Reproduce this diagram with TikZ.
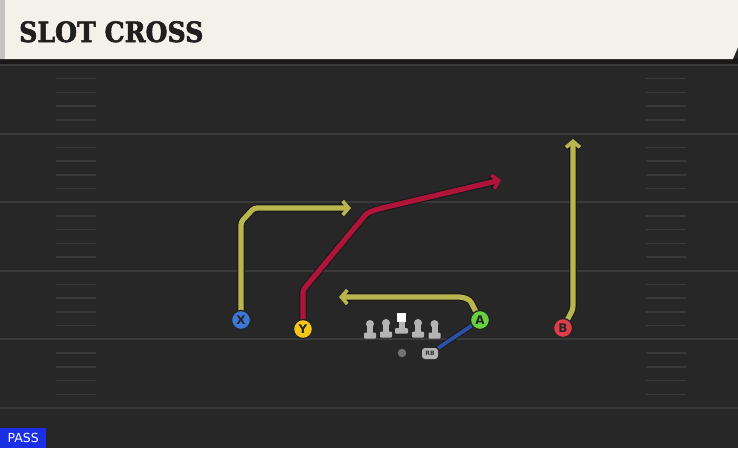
\documentclass[tikz,border=0pt]{standalone}
\usepackage{fontspec}
\setmainfont{DejaVu Sans}
\newfontfamily\titlefont[FakeStretch=0.9, FakeBold=2]{DejaVu Serif}
\usetikzlibrary{arrows.meta}

\definecolor{field}{HTML}{272727}
\definecolor{yardline}{HTML}{3A3A3A}
\definecolor{hashline}{HTML}{393939}
\definecolor{paper}{HTML}{F4F1EA}
\definecolor{routeyel}{HTML}{B9B64E}
\definecolor{routered}{HTML}{B0143A}
\definecolor{blockblue}{HTML}{2C50A6}
\definecolor{xblue}{HTML}{3B78D8}
\definecolor{yyel}{HTML}{F5C518}
\definecolor{agreen}{HTML}{6AD13E}
\definecolor{bred}{HTML}{E23B4A}
\definecolor{linegray}{HTML}{B4B4B4}
\definecolor{passblue}{HTML}{1B2FE6}

\pgfdeclarelayer{turf}
\pgfdeclarelayer{routes}
\pgfsetlayers{turf,routes,main}

\tikzset{
  lineman/.pic={
    \fill[linegray] (0,0) circle (4);
    \fill[linegray] (-3,0) rectangle (3,8.5);
    \fill[linegray, rounded corners=1] (-6,8.5) rectangle (6,14.5);
  }
}

\begin{document}
\begin{tikzpicture}[x=1pt, y=-1pt,
    route/.style={line width=5.2pt, rounded corners=3pt,
      arrows={-Straight Barb[length=6pt,width=14pt,line width=3.6pt]},
      preaction={draw=black!90, line width=7.2pt,
        arrows={-Straight Barb[length=6pt,width=14pt,line width=5.4pt]}}},
    player/.style={circle, draw=black!85, line width=1.3pt, minimum size=19pt,
      inner sep=0pt, font=\bfseries\fontsize{12}{12}\selectfont, text=black!85}]
	\useasboundingbox (0,0) rectangle (738,448);

	% field and header
	\begin{pgfonlayer}{turf}
	\fill[field] (0,0) rectangle (738,448);
	\fill[black!90] (0,58) rectangle (738,64);
	\fill[paper] (0,0) -- (738,0) -- (738,47) -- (733,59) -- (0,59) -- cycle;
	\fill[linegray!80] (0,0) rectangle (5,59);
	% yard lines and hashes
	\foreach \k in {0,...,5}
	  \draw[yardline, line width=2pt] (0,65+68.6*\k) -- (738,65+68.6*\k);
	\foreach \k in {0,...,4}
	  \foreach \j in {1,...,4} {
	    \draw[hashline, line width=1.5pt] (56,65+68.6*\k+13.72*\j) -- (96,65+68.6*\k+13.72*\j);
	    \draw[hashline, line width=1.5pt] (646,65+68.6*\k+13.72*\j) -- (686,65+68.6*\k+13.72*\j);
	  }
	\end{pgfonlayer}
	\node[anchor=base west, inner sep=0pt, text=black!88,
	  font=\titlefont\bfseries\fontsize{28}{28}\selectfont] (title) at (19,42) {SLOT CROSS};

	% players
	\node[player, fill=xblue] (X) at (241,320) {X};
	\node[player, fill=yyel] (Y) at (303,329) {Y};
	\node[player, fill=agreen] (A) at (480,320) {A};
	\node[player, fill=bred] (B) at (563,328) {B};
	\node[circle, fill=black!55, minimum size=8.5pt, inner sep=0pt] (QB) at (402,353) {};
	\node[fill=linegray, rounded corners=3pt, minimum width=16pt, minimum height=11pt,
	  inner sep=0pt, text=black!80, font=\bfseries\fontsize{6}{6}\selectfont] (RB) at (430,353.5) {RB};

	% line
	\pic at (370,324) {lineman};
	\pic at (386,323) {lineman};
	\pic at (418,323) {lineman};
	\pic at (434.5,324) {lineman};
	\fill[linegray] (398.5,320) rectangle (404.5,329);
	\fill[linegray, rounded corners=1] (395,328) rectangle (408,333.5);
	\fill[white] (397,313) rectangle (406,322);

	% route ends
	\coordinate (Xend) at (351,208);
	\coordinate (Yend) at (501,180);
	\coordinate (Aend) at (339,297);
	\coordinate (Bend) at (573,139);

	% routes
	\begin{pgfonlayer}{routes}
	\draw[blockblue, line width=3.8pt, preaction={draw=black!90, line width=5.6pt}] (A.center) -- (RB);
	\draw[route, routeyel] (X.center) -- (241,222) -- (254,208) -- (Xend);
	\draw[route, routered] (Y.center) -- (303,290) -- (367,213) -- (378,209) -- (Yend);
	\draw[route, routeyel] (A.center) -- (470,300) -- (462,297) -- (Aend);
	\draw[route, routeyel] (B.center) -- (573,309) -- (Bend);
	\end{pgfonlayer}

	% play type
	\node[fill=passblue, text=white, anchor=south west, minimum width=46pt, minimum height=20pt,
	  inner sep=0pt, font=\fontsize{12.5}{12.5}\selectfont] (pass) at (0,448) {PASS};
\end{tikzpicture}
\end{document}
